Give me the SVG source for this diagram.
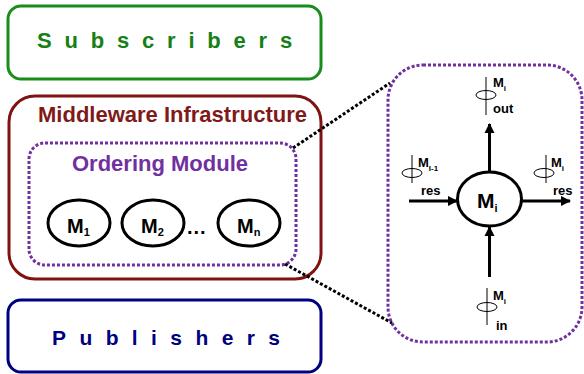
<svg xmlns="http://www.w3.org/2000/svg" width="584" height="374" viewBox="0 0 584 374">
<defs>
<style>
.t{font-family:"Liberation Sans",Arial,sans-serif;font-weight:bold}
.dot{fill:none;stroke:#7030a0;stroke-width:3;stroke-dasharray:3 2}
.blk{fill:none;stroke:#000;stroke-width:3;stroke-dasharray:3 2}
.node{fill:#fff;stroke:#000;stroke-width:3}
.arr{stroke:#000;stroke-width:3;fill:none;marker-end:url(#ah)}
.phi{fill:none;stroke:#000;stroke-width:1}
.sm{font-size:13px}
</style>
<marker id="ah" viewBox="0 0 10 10" refX="9" refY="5" markerWidth="3.5" markerHeight="3.5" orient="auto" markerUnits="strokeWidth">
<path d="M0,0 L10,5 L0,10 z" fill="#000"/>
</marker>
</defs>
<rect width="584" height="374" fill="#fff"/>

<g id="subscribers">
<rect x="8" y="6" width="313" height="73" rx="13" fill="none" stroke="#1a8c1a" stroke-width="3"/>
<text class="t" x="37" y="48" font-size="22" fill="#168016" letter-spacing="12.8">Subscribers</text>
</g>

<g id="middleware">
<rect x="9" y="96" width="312" height="183" rx="26" fill="none" stroke="#7f1212" stroke-width="3"/>
<text class="t" x="38" y="122" font-size="22" fill="#7f1a1a">Middleware Infrastructure</text>
</g>

<g id="ordering-module">
<rect x="29" y="143" width="267" height="122" rx="16" class="dot"/>
<text class="t" x="72" y="171" font-size="22" fill="#7030a0">Ordering Module</text>
</g>

<g id="m1">
<ellipse cx="79" cy="223" rx="31" ry="23" class="node"/>
<text class="t" x="67" y="233" font-size="20">M<tspan font-size="11" dy="3">1</tspan></text>
</g>
<g id="m2">
<ellipse cx="153" cy="223" rx="31" ry="23" class="node"/>
<text class="t" x="141" y="233" font-size="20">M<tspan font-size="11" dy="3">2</tspan></text>
</g>
<g id="dots">
<text class="t" x="187" y="234" font-size="20" letter-spacing="1">...</text>
</g>
<g id="mn">
<ellipse cx="249" cy="223" rx="31" ry="23" class="node"/>
<text class="t" x="237" y="233" font-size="20">M<tspan font-size="11" dy="3">n</tspan></text>
</g>

<g id="publishers">
<rect x="8" y="300" width="313" height="72" rx="13" fill="none" stroke="#000080" stroke-width="3"/>
<text class="t" x="52" y="345" font-size="21" fill="#000080" letter-spacing="13.4">Publishers</text>
</g>

<g id="detail">
<rect x="388" y="65" width="194" height="277" rx="35" class="dot"/>
</g>

<g id="mi">
<ellipse cx="489.5" cy="199" rx="32" ry="27" class="node"/>
<text class="t" x="477" y="208" font-size="21">M<tspan font-size="11" dy="4">i</tspan></text>
</g>

<g id="phi-out">
<line x1="486" y1="77" x2="486" y2="115" class="phi"/>
<ellipse cx="486" cy="95" rx="10" ry="4.5" class="phi"/>
<text class="t sm" x="493" y="87">M<tspan font-size="8" dy="4">i</tspan></text>
<text class="t sm" x="493" y="113">out</text>
</g>
<g id="phi-res-prev">
<line x1="412" y1="155" x2="412" y2="183" class="phi"/>
<ellipse cx="412" cy="173" rx="10" ry="4.5" class="phi"/>
<text class="t sm" x="418" y="167">M<tspan font-size="8" dy="4">I-1</tspan></text>
<text class="t sm" x="421" y="195">res</text>
</g>
<g id="phi-res">
<line x1="546" y1="155" x2="546" y2="183" class="phi"/>
<ellipse cx="544" cy="173" rx="10" ry="4.5" class="phi"/>
<text class="t sm" x="551" y="167">M<tspan font-size="8" dy="4">i</tspan></text>
<text class="t sm" x="553" y="195">res</text>
</g>
<g id="phi-in">
<line x1="487" y1="288" x2="487" y2="325" class="phi"/>
<ellipse cx="487" cy="307" rx="10" ry="4.5" class="phi"/>
<text class="t sm" x="493" y="300">M<tspan font-size="8" dy="4">i</tspan></text>
<text class="t sm" x="496" y="330">in</text>
</g>

<g id="connectors">
<line x1="293" y1="148" x2="390" y2="83" class="blk"/>
<line x1="285" y1="264" x2="392" y2="323" class="blk"/>
<line x1="489.5" y1="172" x2="489.5" y2="124" class="arr"/>
<line x1="409" y1="201" x2="457" y2="201" class="arr"/>
<line x1="522" y1="201" x2="570" y2="201" class="arr"/>
<line x1="489.5" y1="277" x2="489.5" y2="227" class="arr"/>
</g>
</svg>
